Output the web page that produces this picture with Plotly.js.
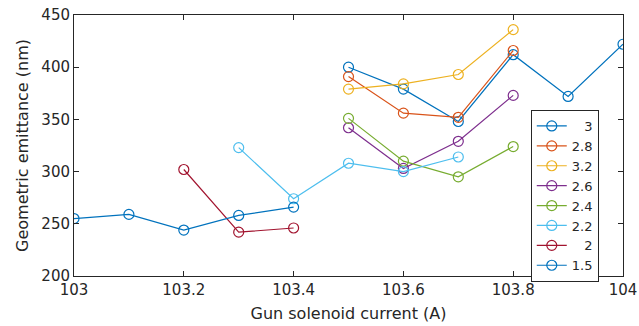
<!DOCTYPE html>
<html>
<head>
<meta charset="utf-8">
<script src="https://cdn.plot.ly/plotly-3.0.1.min.js"></script>
<style>html,body{margin:0;padding:0;background:#fff;}#chart{width:639px;height:326px;}</style>
</head>
<body>
<div id="chart"></div>
<script>
// Series names (legend labels)
const seriesNames = ["3", "2.8", "3.2", "2.6", "2.4", "2.2", "2", "1.5"];
// Gun solenoid current (A) per series
const x_3   = [103.5, 103.6, 103.7, 103.8, 103.9, 104.0];
const x_2p8 = [103.5, 103.6, 103.7, 103.8];
const x_3p2 = [103.5, 103.6, 103.7, 103.8];
const x_2p6 = [103.5, 103.6, 103.7, 103.8];
const x_2p4 = [103.5, 103.6, 103.7, 103.8];
const x_2p2 = [103.3, 103.4, 103.5, 103.6, 103.7];
const x_2   = [103.2, 103.3, 103.4];
const x_1p5 = [103.0, 103.1, 103.2, 103.3, 103.4];
// Geometric emittance (nm) per series
const y_3   = [400, 379, 348, 412, 372, 422];
const y_2p8 = [391, 356, 352, 416];
const y_3p2 = [379, 384, 393, 436];
const y_2p6 = [342, 303, 329, 373];
const y_2p4 = [351, 310, 295, 324];
const y_2p2 = [323, 274, 308, 300, 314];
const y_2   = [302, 242, 246];
const y_1p5 = [255, 259, 244, 258, 266];
// Axis ticks
const xTicks = [103, 103.2, 103.4, 103.6, 103.8, 104];
const yTicks = [200, 250, 300, 350, 400, 450];

const colors = ["#0072BD", "#D95319", "#EDB120", "#7E2F8E", "#77AC30", "#4DBEEE", "#A2142F", "#0072BD"];
const xs = [x_3, x_2p8, x_3p2, x_2p6, x_2p4, x_2p2, x_2, x_1p5];
const ys = [y_3, y_2p8, y_3p2, y_2p6, y_2p4, y_2p2, y_2, y_1p5];
// right-align legend labels with figure/punctuation spaces
function pad(s) {
  if (s.length === 1) return "\u2007\u2008" + s;
  return s;
}

const traces = seriesNames.map((n, i) => ({
  type: "scatter",
  mode: "lines+markers",
  name: pad(n),
  x: xs[i],
  y: ys[i],
  line: {color: colors[i], width: 1.2},
  marker: {symbol: "circle-open", size: 10, color: colors[i], line: {width: 1.2, color: colors[i]}}
}));

const FONT = "DejaVu Sans, sans-serif";
const axisCommon = {
  showgrid: false,
  zeroline: false,
  showline: true,
  linecolor: "#262626",
  linewidth: 1,
  mirror: "ticks",
  ticks: "inside",
  ticklen: 5,
  tickcolor: "#262626",
  tickfont: {family: FONT, size: 15, color: "#262626"}
};

const layout = {
  width: 639,
  height: 326,
  margin: {l: 74, r: 16, t: 15, b: 50},
  paper_bgcolor: "#fff",
  plot_bgcolor: "#fff",
  font: {family: FONT, size: 15, color: "#262626"},
  showlegend: true,
  xaxis: Object.assign({}, axisCommon, {
    range: [103, 104],
    tickvals: xTicks,
    ticktext: xTicks.map(v => String(v)),
    title: {text: "Gun solenoid current (A)", font: {family: FONT, size: 16, color: "#262626"}, standoff: 9}
  }),
  yaxis: Object.assign({}, axisCommon, {
    range: [200, 450],
    tickvals: yTicks,
    title: {text: "Geometric emittance (nm)", font: {family: FONT, size: 16, color: "#262626"}, standoff: 8}
  }),
  legend: {
    x: 0.832, y: 0.636, xanchor: "left", yanchor: "top",
    bgcolor: "#fff", bordercolor: "#262626", borderwidth: 1,
    font: {family: FONT, size: 13, color: "#262626"},
    itemwidth: 30
  }
};

Plotly.newPlot("chart", traces, layout, {displayModeBar: false, staticPlot: true});
</script>
</body>
</html>
